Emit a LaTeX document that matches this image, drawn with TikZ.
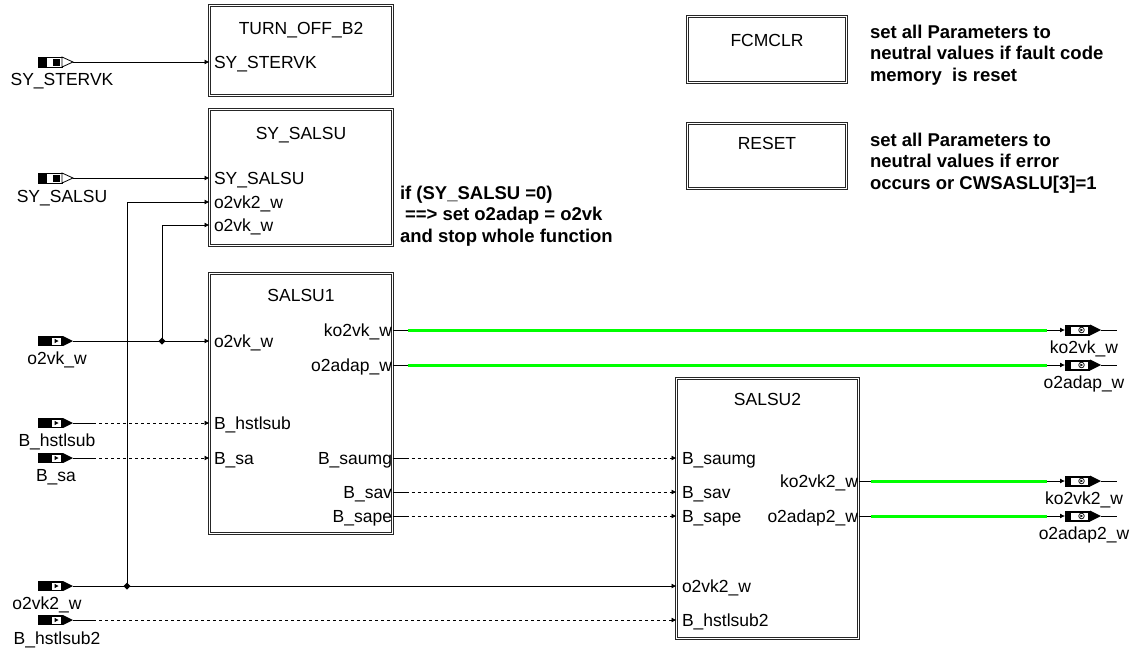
\documentclass[tikz,border=0pt]{standalone}
\usepackage{fontspec}
\setmainfont{Liberation Sans}
\usetikzlibrary{arrows.meta,shapes.geometric,calc}
\definecolor{sig}{RGB}{0,255,0}
\tikzset{
 inA/.pic={
  \fill (0,-5) rectangle (25,5);
  \fill[white] (14,-3.5) rectangle (23,3.5);
  \fill (16.5,-2.2) -- (20.5,0) -- (16.5,2.2) -- cycle;
  \fill (25,-5) -- (35,0) -- (25,5) -- cycle;
 },
 inB/.pic={
  \draw[line width=0.8pt,fill=white] (0.5,-5) rectangle (24,5);
  \fill (0.5,-5) rectangle (9,5);
  \fill (15,-3.5) rectangle (22,3.5);
  \draw[line width=0.8pt,fill=white] (24,-5) -- (35,0) -- (24,5) -- cycle;
 },
 outp/.pic={
  \fill (0,-5.5) rectangle (25,5.5);
  \fill[white] (5.5,-3.5) rectangle (23,3.5);
  \draw[line width=0.7pt] (16.5,0) circle (2.8pt);
  \fill (15.3,-1.5) -- (18,0) -- (15.3,1.5) -- cycle;
  \fill (25,-5.5) -- (36,0) -- (25,5.5) -- cycle;
  \draw[line width=0.8pt] (36,0) -- (52,0);
 },
}
\begin{document}
\begin{tikzpicture}[x=1pt,y=-1pt,
  every node/.style={inner sep=0pt,outer sep=0pt},
  lbl/.style={font=\fontsize{17.5}{20}\selectfont,text height=12.5pt,text depth=0pt},
  blk/.style={draw=black!85,double,double distance=1.6pt,line width=0.7pt,minimum width=183pt},
  wire/.style={line width=0.8pt,-{Latex[length=5pt,width=5pt]}},
  dwire/.style={wire,dash pattern=on 3pt off 3pt},
  plain/.style={line width=0.8pt},
  grn/.style={draw=sig,line width=3pt},
  cmt/.style={font=\bfseries\fontsize{18.5}{21.5}\selectfont,align=left,anchor=north west},
  jn/.style={diamond,fill,minimum size=7pt}]
\fill[white] (0,0) rectangle (1132,651);
\useasboundingbox (0,0) rectangle (1132,651);

% ---- blocks
\node[blk,minimum height=90pt] (TOB) at (301,50.5) {};
\node[lbl] (TOBt) at (301,28) {TURN\_OFF\_B2};
\node[lbl,anchor=west] (TOBi1) at (214,62) {SY\_STERVK};

\node[blk,minimum height=136pt] (SYS) at (301,177.5) {};
\node[lbl] (SYSt) at (301,133) {SY\_SALSU};
\node[lbl,anchor=west] (SYSi1) at (214,178) {SY\_SALSU};
\node[lbl,anchor=west] (SYSi2) at (214,202) {o2vk2\_w};
\node[lbl,anchor=west] (SYSi3) at (214,225) {o2vk\_w};

\node[blk,minimum height=260pt] (S1) at (301,403.5) {};
\node[lbl] (S1t) at (301,295) {SALSU1};
\node[lbl,anchor=west] (S1i1) at (214,341) {o2vk\_w};
\node[lbl,anchor=west] (S1i2) at (214,423) {B\_hstlsub};
\node[lbl,anchor=west] (S1i3) at (214,458) {B\_sa};
\node[lbl,anchor=east] (S1o1) at (392,330) {ko2vk\_w};
\node[lbl,anchor=east] (S1o2) at (392,365) {o2adap\_w};
\node[lbl,anchor=east] (S1o3) at (392,458) {B\_saumg};
\node[lbl,anchor=east] (S1o4) at (392,492) {B\_sav};
\node[lbl,anchor=east] (S1o5) at (392,516) {B\_sape};

\node[blk,minimum width=182pt,minimum height=260pt] (S2) at (767.5,508.5) {};
\node[lbl] (S2t) at (767.5,399) {SALSU2};
\node[lbl,anchor=west] (S2i1) at (682,458) {B\_saumg};
\node[lbl,anchor=west] (S2i2) at (682,492) {B\_sav};
\node[lbl,anchor=west] (S2i3) at (682,516) {B\_sape};
\node[lbl,anchor=west] (S2i4) at (682,586) {o2vk2\_w};
\node[lbl,anchor=west] (S2i5) at (682,620) {B\_hstlsub2};
\node[lbl,anchor=east] (S2o1) at (858,481) {ko2vk2\_w};
\node[lbl,anchor=east] (S2o2) at (858,516) {o2adap2\_w};

\node[blk,minimum width=159pt,minimum height=66pt] (FC) at (767,49.5) {};
\node[lbl] (FCt) at (767,40) {FCMCLR};
\node[blk,minimum width=159pt,minimum height=65pt] (RS) at (767,156) {};
\node[lbl] (RSt) at (767,143) {RESET};

% ---- comments
\node[cmt] (c1) at (870,25) {set all Parameters to\\neutral values if fault code\\memory\ \ is reset};
\node[cmt] (c2) at (870,133) {set all Parameters to\\neutral values if error\\occurs or CWSASLU[3]=1};
\node[cmt] (c3) at (400,186) {if (SY\_SALSU =0)\\\hspace*{5pt}==> set o2adap = o2vk\\and stop whole function};

% ---- input ports
\pic at (38,62) {inB};  \coordinate (pSTERVK) at (73,62);
\node[lbl] (lSTERVK) at (62,79.5) {SY\_STERVK};
\pic at (38,178) {inB}; \coordinate (pSALSU) at (73,178);
\node[lbl] (lSALSU) at (62,196) {SY\_SALSU};
\pic at (38,341) {inA}; \coordinate (pO2vk) at (73,341);
\node[lbl] (lO2vk) at (57,358) {o2vk\_w};
\pic at (38,423) {inA}; \coordinate (pHst) at (73,423);
\node[lbl] (lHst) at (57,440) {B\_hstlsub};
\pic at (38,458) {inA}; \coordinate (pBsa) at (73,458);
\node[lbl] (lBsa) at (56,475) {B\_sa};
\pic at (38,586) {inA}; \coordinate (pO2vk2) at (73,586);
\node[lbl] (lO2vk2) at (47,603) {o2vk2\_w};
\pic at (38,620) {inA}; \coordinate (pHst2) at (73,620);
\node[lbl] (lHst2) at (57,638) {B\_hstlsub2};

% ---- output ports
\pic at (1065,330) {outp}; \coordinate (qKo) at (1065,330);
\node[lbl] (lKo) at (1084,347) {ko2vk\_w};
\pic at (1065,365) {outp}; \coordinate (qAd) at (1065,365);
\node[lbl] (lAd) at (1084,382) {o2adap\_w};
\pic at (1065,481) {outp}; \coordinate (qKo2) at (1065,481);
\node[lbl] (lKo2) at (1084,498) {ko2vk2\_w};
\pic at (1065,516) {outp}; \coordinate (qAd2) at (1065,516);
\node[lbl] (lAd2) at (1084,533) {o2adap2\_w};

% ---- wires
\draw[wire] (pSTERVK) -- (TOB.west |- TOBi1);
\draw[wire] (pSALSU) -- (SYS.west |- SYSi1);
\draw[wire] (pO2vk) -- (S1.west |- S1i1);
\node[jn] (J1) at (162,341) {};
\draw[wire] (J1.center) |- (SYS.west |- SYSi3);
\draw[wire] (pO2vk2) -- (S2.west |- S2i4);
\node[jn] (J2) at (127,586) {};
\draw[wire] (J2.center) |- (SYS.west |- SYSi2);

\draw[plain] (pHst) -- ++(20,0) coordinate (pHstb);
\draw[dwire] (pHstb) -- (S1.west |- S1i2);
\draw[plain] (pBsa) -- ++(20,0) coordinate (pBsab);
\draw[dwire] (pBsab) -- (S1.west |- S1i3);
\draw[plain] (pHst2) -- ++(20,0) coordinate (pHst2b);
\draw[dwire] (pHst2b) -- (S2.west |- S2i5);

\draw[plain] (S1.east |- S1o3) -- ++(13,0) coordinate (s1o3b);
\draw[dwire] (s1o3b) -- (S2.west |- S2i1);
\draw[plain] (S1.east |- S1o4) -- ++(13,0) coordinate (s1o4b);
\draw[dwire] (s1o4b) -- (S2.west |- S2i2);
\draw[plain] (S1.east |- S1o5) -- ++(13,0) coordinate (s1o5b);
\draw[dwire] (s1o5b) -- (S2.west |- S2i3);

\draw[wire] (S1.east |- S1o1) -- (qKo);
\draw[grn] ($(S1.east |- S1o1)+(15,0)$) -- ($(qKo)+(-18,0)$);
\draw[wire] (S1.east |- S1o2) -- (qAd);
\draw[grn] ($(S1.east |- S1o2)+(15,0)$) -- ($(qAd)+(-18,0)$);
\draw[wire] (S2.east |- S2o1) -- (qKo2);
\draw[grn] ($(S2.east |- S2o1)+(12,0)$) -- ($(qKo2)+(-18,0)$);
\draw[wire] (S2.east |- S2o2) -- (qAd2);
\draw[grn] ($(S2.east |- S2o2)+(12,0)$) -- ($(qAd2)+(-18,0)$);
\end{tikzpicture}
\end{document}
